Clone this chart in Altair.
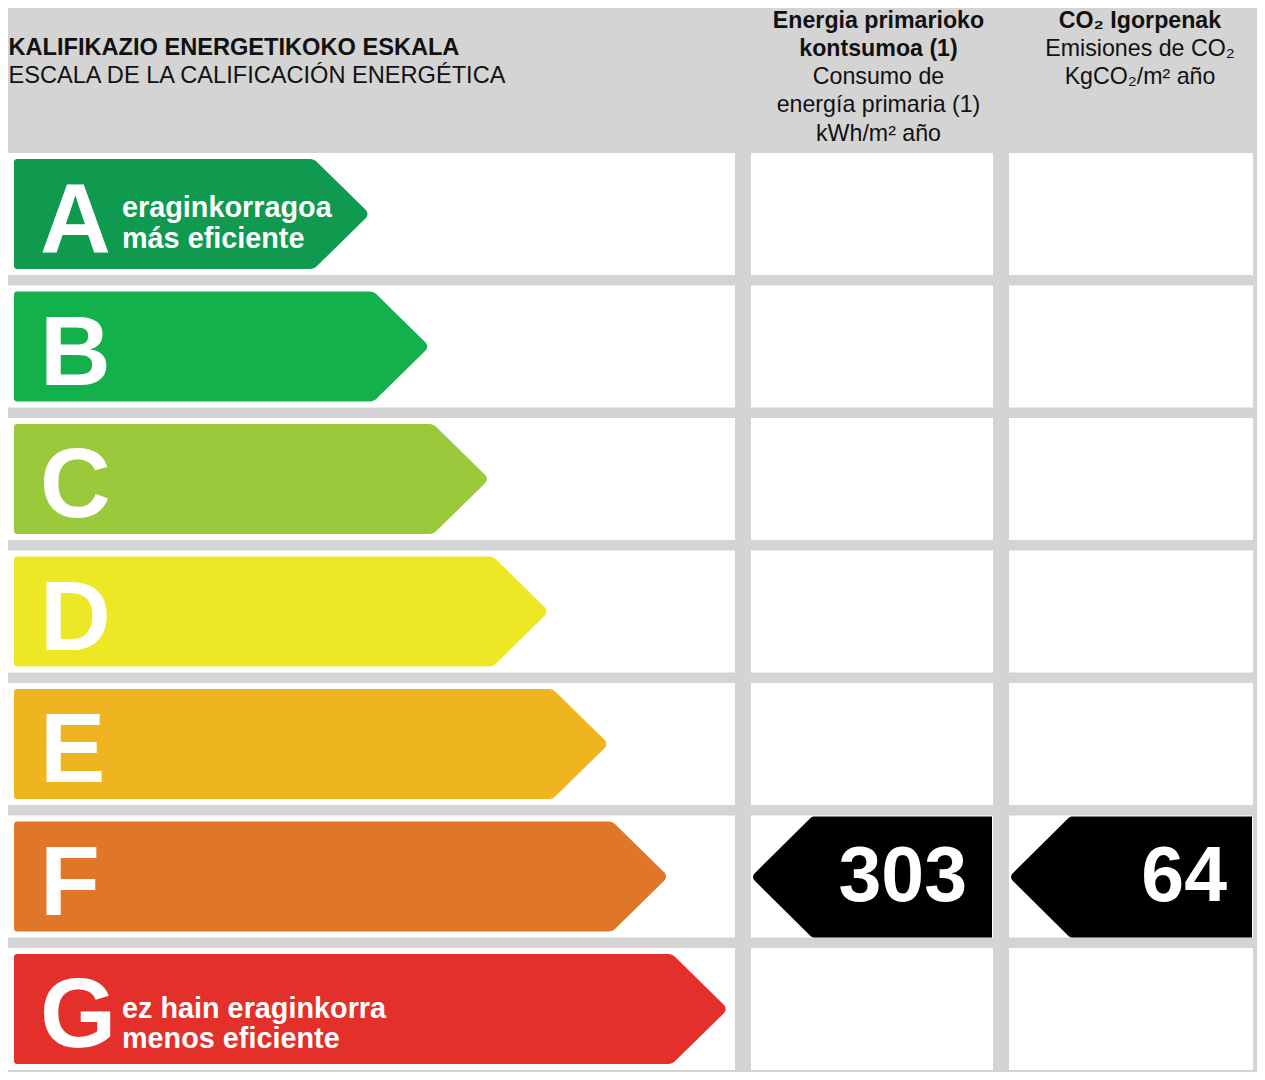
import math
import altair as alt
import pandas as pd

# ---------------- data ----------------
letters = ["A", "B", "C", "D", "E", "F", "G"]
colors = ["#0f9a4f", "#13b04b", "#9aca3c", "#ece826", "#efb520", "#e07628", "#e3302b"]
sub_top = ["eraginkorragoa", "", "", "", "", "", "ez hain eraginkorra"]
sub_bottom = ["más eficiente", "", "", "", "", "", "menos eficiente"]

rating_energy = "F"
rating_co2 = "F"
energy_value = 303
co2_value = 64

title_bold = "KALIFIKAZIO ENERGETIKOKO ESKALA"
title_normal = "ESCALA DE LA CALIFICACIÓN ENERGÉTICA"
col2_bold = ["Energia primarioko", "kontsumoa (1)"]
col2_normal = ["Consumo de", "energía primaria (1)", "kWh/m² año"]
col3_bold = ["CO₂ Igorpenak"]
col3_normal = ["Emisiones de CO₂", "KgCO₂/m² año"]

# ---------------- layout ----------------
FONT = "Liberation Sans, Arial, Helvetica, sans-serif"
W, H, M = 1249, 1064, 8
ROW_TOP0, ROW_PITCH, ROW_H = 153, 132.5, 122
PANEL = (5, 735)
COL2 = (751, 993)
COL3 = (1009, 1253)
ARROW_LEFT, TIP0, TIP_STEP, HEAD_W, INSET = 14, 370, 59.7, 56, 6
SUB_DY = {0: (64, 95), 6: (70, 100)}


def fillet(A, V, B, r, n=8):
    ax, ay = A[0] - V[0], A[1] - V[1]
    bx, by = B[0] - V[0], B[1] - V[1]
    la, lb = math.hypot(ax, ay), math.hypot(bx, by)
    ua, ub = (ax / la, ay / la), (bx / lb, by / lb)
    th = math.acos(max(-1.0, min(1.0, ua[0] * ub[0] + ua[1] * ub[1])))
    t = r / math.tan(th / 2)
    t1 = (V[0] + t * ua[0], V[1] + t * ua[1])
    t2 = (V[0] + t * ub[0], V[1] + t * ub[1])
    sx, sy = ua[0] + ub[0], ua[1] + ub[1]
    ls = math.hypot(sx, sy)
    d = r / math.sin(th / 2)
    C = (V[0] + d * sx / ls, V[1] + d * sy / ls)
    a1 = math.atan2(t1[1] - C[1], t1[0] - C[0])
    a2 = math.atan2(t2[1] - C[1], t2[0] - C[0])
    da = a2 - a1
    while da > math.pi:
        da -= 2 * math.pi
    while da < -math.pi:
        da += 2 * math.pi
    return [(round(C[0] + r * math.cos(a1 + da * k / n), 3),
             round(C[1] + r * math.sin(a1 + da * k / n), 3)) for k in range(n + 1)]


cells, arrows, letter_txt, sub_txt = [], [], [], []
for i, L in enumerate(letters):
    top = ROW_TOP0 + i * ROW_PITCH
    bot = top + ROW_H
    for (x0, x1) in (PANEL, COL2, COL3):
        cells.append({"x": x0, "x2": x1, "y": top, "y2": bot})
    at, ab = top + INSET, bot - INSET
    c = (at + ab) / 2
    tip = TIP0 + i * TIP_STEP
    body = tip - HEAD_W
    pts = fillet((ARROW_LEFT, c), (ARROW_LEFT, at), (body, at), 3)
    pts += fillet((ARROW_LEFT, at), (body, at), (tip, c), 11)
    pts += [p for p in fillet((body, at), (tip, c), (body, ab), 6) if p[1] <= c + 1e-6]
    pts = sorted(set(pts), key=lambda p: p[0])
    for (px, py) in pts:
        arrows.append({"letter": L, "x": px, "y": py, "y2": round(2 * c - py, 3)})
    letter_txt.append({"x": 40, "y": top + 99, "t": L})
    if sub_top[i]:
        d1, d2 = SUB_DY.get(i, (64, 95))
        sub_txt.append({"x": 122, "y": top + d1, "t": sub_top[i]})
        sub_txt.append({"x": 122, "y": top + d2, "t": sub_bottom[i]})

black, value_txt = [], []
for col, (x0, x1), rat, val in (("e", COL2, rating_energy, energy_value),
                                ("c", COL3, rating_co2, co2_value)):
    i = letters.index(rat)
    top = ROW_TOP0 + i * ROW_PITCH + 1
    bot = top + ROW_H - 1
    c = (top + bot) / 2
    tip, notch, right = x0, x0 + 61, x1 - 1
    pts = [p for p in fillet((notch, bot), (tip, c), (notch, top), 5) if p[1] <= c + 1e-6]
    pts += fillet((tip, c), (notch, top), (right, top), 6)
    pts.append((right, top))
    pts = sorted(set(pts), key=lambda p: p[0])
    for (px, py) in pts:
        black.append({"col": col, "x": px, "y": py, "y2": round(2 * c - py, 3)})
    value_txt.append({"x": x1 - 26, "y": bot - 37, "t": str(val)})

LH = 28.3
hdr_bold = [{"x": 8.5, "y": 55, "t": title_bold, "a": "left"}]
hdr_norm = [{"x": 8.5, "y": 83, "t": title_normal, "a": "left"}]
for k, s in enumerate(col2_bold):
    hdr_bold.append({"x": 878.5, "y": 27.5 + LH * k, "t": s, "a": "center"})
for k, s in enumerate(col2_normal):
    hdr_norm.append({"x": 878.5, "y": 27.5 + LH * (k + 2), "t": s, "a": "center"})
for k, s in enumerate(col3_bold):
    hdr_bold.append({"x": 1140, "y": 27.5 + LH * k, "t": s, "a": "center"})
for k, s in enumerate(col3_normal):
    hdr_norm.append({"x": 1140, "y": 27.5 + LH * (k + 1), "t": s, "a": "center"})

xs = alt.Scale(domain=[M, M + W], nice=False, zero=False)
ys = alt.Scale(domain=[M, M + H], nice=False, zero=False, reverse=True)
X = alt.X("x:Q", scale=xs, axis=None)
Y = alt.Y("y:Q", scale=ys, axis=None)
YA = alt.Y("y:Q", scale=ys, axis=None, stack=None)

cell_layer = alt.Chart(pd.DataFrame(cells)).mark_rect(color="white").encode(
    x=X, x2="x2:Q", y=Y, y2="y2:Q")

arrow_layer = alt.Chart(pd.DataFrame(arrows)).mark_area(opacity=1).encode(
    x=X, y=YA, y2="y2:Q",
    color=alt.Color("letter:N", scale=alt.Scale(domain=letters, range=colors), legend=None),
    detail="letter:N")

black_layer = alt.Chart(pd.DataFrame(black)).mark_area(color="black", opacity=1).encode(
    x=X, y=YA, y2="y2:Q", detail="col:N")

letter_layer = alt.Chart(pd.DataFrame(letter_txt)).mark_text(
    align="left", baseline="alphabetic", font=FONT, fontSize=98, fontWeight="bold", color="white"
).encode(x=X, y=Y, text="t:N")

sub_layer = alt.Chart(pd.DataFrame(sub_txt)).mark_text(
    align="left", baseline="alphabetic", font=FONT, fontSize=28.8, fontWeight="bold", color="white"
).encode(x=X, y=Y, text="t:N")

value_layer = alt.Chart(pd.DataFrame(value_txt)).mark_text(
    align="right", baseline="alphabetic", font=FONT, fontSize=77, fontWeight="bold", color="white"
).encode(x=X, y=Y, text="t:N")


def hdr(rows, weight, align, size):
    d = pd.DataFrame([r for r in rows if r["a"] == align])
    return alt.Chart(d).mark_text(
        align=align, baseline="alphabetic", font=FONT, fontSize=size, fontWeight=weight, color="#111111"
    ).encode(x=X, y=Y, text="t:N")


chart = alt.layer(
    cell_layer, arrow_layer, black_layer, letter_layer, sub_layer, value_layer,
    hdr(hdr_bold, "bold", "left", 23.6), hdr(hdr_bold, "bold", "center", 23.2),
    hdr(hdr_norm, "normal", "left", 23.6), hdr(hdr_norm, "normal", "center", 23.2),
).properties(
    width=W, height=H, autosize=alt.AutoSizeParams(type="none"), padding=0,
    background="#d4d4d4"
).configure_view(stroke=None)

chart.save("out.html", embed_options={"renderer": "svg", "actions": False})
